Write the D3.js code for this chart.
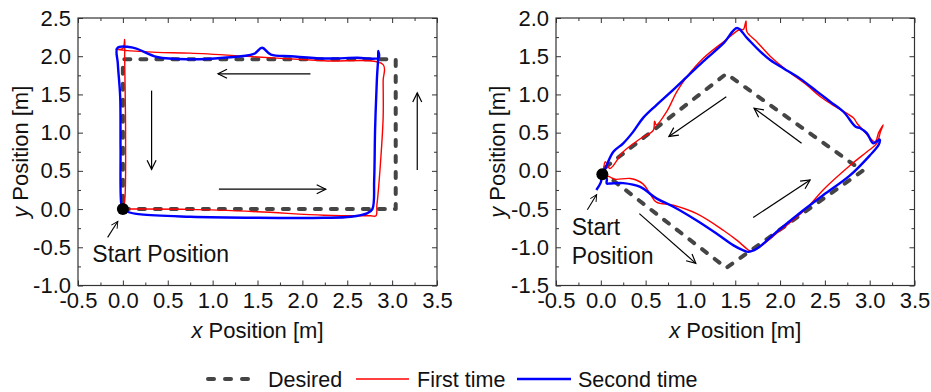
<!DOCTYPE html>
<html>
<head>
<meta charset="utf-8">
<script src="https://cdn.jsdelivr.net/npm/d3@7"></script>
<style>
  body { margin: 0; background: #fff; }
  svg text { font-family: "Liberation Sans", Arial, sans-serif; fill: #111; }
</style>
</head>
<body>
<div class="chart"></div>
<script>
// ---- datos ----
var xTicks = [-0.5, 0.0, 0.5, 1.0, 1.5, 2.0, 2.5, 3.0, 3.5];
var leftYTicks = [-1.0, -0.5, 0.0, 0.5, 1.0, 1.5, 2.0, 2.5];
var rightYTicks = [-1.5, -1.0, -0.5, 0.0, 0.5, 1.0, 1.5, 2.0];

// trayectoria deseada, rectángulo
var rectDesired = [[0, 0], [3.04, 0], [3.04, 1.96], [0, 1.96], [0, 0]];
// primera vez, rectángulo
var rectFirst = [[0, 0], [0.07, 0], [0.75, -0.004], [1.5, -0.035], [2.24, -0.08], [2.76, -0.088], [2.82, -0.088],
  [2.83, 0.05], [2.84, 0.16], [2.87, 0.6], [2.9, 1.2], [2.9, 1.68], [2.9, 1.89],
  [2.24, 1.94], [1.5, 1.99], [0.75, 2.04], [0.38, 2.05], [0.09, 2.07], [-0.08, 2.09],
  [0.0, 2.1], [0.02, 2.22], [0.02, 2.0], [0.03, 1.0], [0.02, 0.1], [0.0, 0.0]];
// segunda vez, rectángulo
var rectSecond = [[0, 0], [0.05, -0.035], [0.2, -0.07], [0.75, -0.1], [1.5, -0.114], [2.24, -0.114], [2.54, -0.1],
  [2.72, -0.056], [2.78, 0.0], [2.8, 0.38], [2.81, 1.03], [2.83, 1.69], [2.845, 1.99], [2.845, 2.07], [2.85, 1.98],
  [2.61, 1.98], [2.24, 1.97], [1.87, 2.0], [1.65, 2.02], [1.55, 2.11], [1.46, 2.03], [1.12, 1.98], [0.75, 1.96],
  [0.38, 1.99], [0.12, 2.11], [-0.06, 2.11], [-0.056, 1.9], [-0.03, 1.47], [-0.026, 0.81], [-0.018, 0.07], [0, 0]];

// trayectoria deseada, rombo
var diamondDesired = [[0, 0], [1.4, -1.27], [2.92, 0.0], [1.4, 1.27], [0, 0]];
var diamondFirst = [[0.02, -0.04], [0.1, -0.08], [0.16, -0.11], [0.33, -0.1], [0.47, -0.17], [0.55, -0.3], [0.62, -0.41],
  [0.81, -0.45], [1.07, -0.56], [1.37, -0.78], [1.52, -0.91], [1.63, -1.02], [1.67, -1.05], [1.74, -1.02],
  [1.96, -0.82], [2.19, -0.6], [2.33, -0.45], [2.48, -0.25], [2.78, 0.07], [2.97, 0.25], [3.08, 0.36], [3.12, 0.51],
  [3.15, 0.6], [3.1, 0.5], [3.06, 0.38], [2.93, 0.53], [2.86, 0.62], [2.82, 0.69], [2.59, 0.86], [2.45, 0.97],
  [2.3, 1.12], [2.07, 1.32], [1.89, 1.5], [1.74, 1.69], [1.63, 1.82], [1.62, 1.96], [1.59, 1.85], [1.55, 1.85],
  [1.37, 1.69], [1.14, 1.47], [0.96, 1.23], [0.85, 1.04], [0.735, 0.775], [0.62, 0.6], [0.6, 0.65], [0.585, 0.53],
  [0.44, 0.42], [0.25, 0.25], [0.1, 0.03], [0.05, 0.12], [0.03, 0.0]];
var diamondSecond = [[-0.05, -0.25], [0.0, -0.15], [0.02, -0.04], [0.066, -0.1], [0.066, -0.165], [0.1, -0.165], [0.25, -0.16],
  [0.44, -0.21], [0.62, -0.36], [0.81, -0.47], [1.07, -0.65], [1.29, -0.82], [1.48, -0.975], [1.59, -1.04],
  [1.645, -1.06], [1.74, -1.02], [1.96, -0.8], [2.19, -0.58], [2.48, -0.32], [2.78, -0.06], [3.0, 0.2],
  [3.1, 0.34], [3.11, 0.41], [3.04, 0.36], [2.97, 0.49], [2.89, 0.56], [2.84, 0.58], [2.71, 0.77], [2.56, 0.905],
  [2.41, 1.04], [2.22, 1.21], [2.04, 1.34], [1.89, 1.45], [1.78, 1.56], [1.63, 1.74], [1.52, 1.87], [1.37, 1.67],
  [1.14, 1.43], [0.96, 1.23], [0.77, 1.02], [0.62, 0.86], [0.47, 0.69], [0.36, 0.51], [0.25, 0.36], [0.14, 0.25],
  [0.066, 0.075], [0.01, -0.1]];

// flechas de dirección [x1, y1, x2, y2]
var rectArrows = [[2.09, 1.77, 1.06, 1.77], [0.32, 1.55, 0.32, 0.52], [1.07, 0.26, 2.26, 0.26], [3.28, 0.51, 3.28, 1.52]];
var diamondArrows = [[1.4, 0.97, 0.76, 0.45], [2.24, 0.36, 1.71, 0.82], [1.7, -0.61, 2.335, -0.12], [0.43, -0.56, 1.06, -1.21]];
var rectStartArrow = [-0.17, -0.37, -0.056, -0.16];
var diamondStartArrow = [-0.15, -0.51, -0.046, -0.31];
var rectStart = [0, 0];
var diamondStart = [0.017, -0.043];

var legendLabels = ["Desired", "First time", "Second time"];

// ---- dibujo ----
var W = 931, H = 392;
var svg = d3.select(".chart").append("svg")
    .attr("width", W).attr("height", H);

var defs = svg.append("defs");
function addMarker(id, size) {
  defs.append("marker")
    .attr("id", id)
    .attr("viewBox", "-10 -6 12 12")
    .attr("markerUnits", "userSpaceOnUse")
    .attr("markerWidth", size).attr("markerHeight", size)
    .attr("refX", 0).attr("refY", 0)
    .attr("orient", "auto")
    .append("path")
    .attr("d", "M-9,-4.5L0,0L-9,4.5")
    .attr("fill", "none").attr("stroke", "#000").attr("stroke-width", 1.2);
}
addMarker("arrowBig", 12);
addMarker("arrowSmall", 9);

var line = d3.line().curve(d3.curveCatmullRom.alpha(0.5));
var lineStraight = d3.line();

function panel(cfg) {
  var x = d3.scaleLinear().domain([-0.5, 3.5]).range([cfg.left, cfg.right]);
  var y = d3.scaleLinear().domain(cfg.yDomain).range([cfg.bottom, cfg.top]);
  var g = svg.append("g");

  var xMinor = d3.range(-0.25, 3.5, 0.5);
  var yMinor = d3.range(cfg.yDomain[0] + 0.25, cfg.yDomain[1], 0.5);
  var fmt = function(d) { return d.toFixed(1); };

  function axis(a, scale, vals, size, labels, transform) {
    var ax = g.append("g").attr("transform", transform)
      .call(a(scale).tickValues(vals).tickSizeInner(-size).tickSizeOuter(0)
        .tickPadding(labels ? 7 : 0).tickFormat(labels ? fmt : ""));
    ax.select(".domain").remove();
    ax.selectAll("line").attr("stroke", "#333");
    ax.selectAll("text").attr("font-size", 22).attr("fill", "#111")
      .style("font-family", '"Liberation Sans", Arial, sans-serif');
    return ax;
  }
  // ejes con marcas hacia dentro
  axis(d3.axisBottom, x, xTicks, 5, true, "translate(0," + cfg.bottom + ")");
  axis(d3.axisBottom, x, xMinor, 3, false, "translate(0," + cfg.bottom + ")");
  axis(d3.axisTop, x, xTicks, 5, false, "translate(0," + cfg.top + ")");
  axis(d3.axisTop, x, xMinor, 3, false, "translate(0," + cfg.top + ")");
  axis(d3.axisLeft, y, cfg.yTicks, 5, true, "translate(" + cfg.left + ",0)");
  axis(d3.axisLeft, y, yMinor, 3, false, "translate(" + cfg.left + ",0)");
  axis(d3.axisRight, y, cfg.yTicks, 5, false, "translate(" + cfg.right + ",0)");
  axis(d3.axisRight, y, yMinor, 3, false, "translate(" + cfg.right + ",0)");

  g.append("rect")
    .attr("x", cfg.left).attr("y", cfg.top)
    .attr("width", cfg.right - cfg.left).attr("height", cfg.bottom - cfg.top)
    .attr("fill", "none").attr("stroke", "#333").attr("stroke-width", 1.2);

  // etiquetas de ejes
  var xl = g.append("text")
    .attr("x", (cfg.left + cfg.right) / 2).attr("y", 338)
    .attr("text-anchor", "middle").attr("font-size", 22);
  xl.append("tspan").attr("font-style", "italic").text("x");
  xl.append("tspan").text(" Position [m]");

  var yl = g.append("text")
    .attr("transform", "translate(" + cfg.yLabelX + "," + ((cfg.top + cfg.bottom) / 2) + ") rotate(-90)")
    .attr("text-anchor", "middle").attr("dy", "0.35em").attr("font-size", 22);
  yl.append("tspan").attr("font-style", "italic").text("y");
  yl.append("tspan").text(" Position [m]");

  function pts(arr) { return arr.map(function(p) { return [x(p[0]), y(p[1])]; }); }

  g.append("path").attr("d", lineStraight(pts(cfg.desired)))
    .attr("fill", "none").attr("stroke", "#454545").attr("stroke-width", 4)
    .attr("stroke-dasharray", "6,10").attr("stroke-linecap", "round").attr("stroke-linejoin", "round");
  g.append("path").attr("d", line(pts(cfg.first)))
    .attr("fill", "none").attr("stroke", "#ff0000").attr("stroke-width", 1.4);
  g.append("path").attr("d", line(pts(cfg.second)))
    .attr("fill", "none").attr("stroke", "#0000ff").attr("stroke-width", 2.4);

  g.selectAll(".arrow").data(cfg.arrows).enter().append("line")
    .attr("class", "arrow")
    .attr("x1", function(d) { return x(d[0]); }).attr("y1", function(d) { return y(d[1]); })
    .attr("x2", function(d) { return x(d[2]); }).attr("y2", function(d) { return y(d[3]); })
    .attr("stroke", "#000").attr("stroke-width", 1.2)
    .attr("marker-end", "url(#arrowBig)");

  var sa = cfg.startArrow;
  g.append("line")
    .attr("x1", x(sa[0])).attr("y1", y(sa[1])).attr("x2", x(sa[2])).attr("y2", y(sa[3]))
    .attr("stroke", "#000").attr("stroke-width", 1.1)
    .attr("marker-end", "url(#arrowSmall)");

  var st = g.append("text").attr("font-size", 23);
  cfg.startText.forEach(function(t) {
    st.append("tspan").attr("x", x(t[1])).attr("y", y(t[2])).text(t[0]);
  });

  g.append("circle")
    .attr("cx", x(cfg.start[0])).attr("cy", y(cfg.start[1])).attr("r", 6)
    .attr("fill", "#000");
}

panel({
  left: 78, right: 437, top: 18, bottom: 285.5, yDomain: [-1.0, 2.5], yTicks: leftYTicks, yLabelX: 20,
  desired: rectDesired, first: rectFirst, second: rectSecond,
  arrows: rectArrows, startArrow: rectStartArrow, start: rectStart,
  startText: [["Start Position", -0.34, -0.69]]
});
panel({
  left: 556, right: 914.5, top: 18, bottom: 285.5, yDomain: [-1.5, 2.0], yTicks: rightYTicks, yLabelX: 497,
  desired: diamondDesired, first: diamondFirst, second: diamondSecond,
  arrows: diamondArrows, startArrow: diamondStartArrow, start: diamondStart,
  startText: [["Start", -0.325, -0.845], ["Position", -0.325, -1.215]]
});

// leyenda
var lg = svg.append("g");
var legendY = 379;
lg.append("line").attr("x1", 208).attr("x2", 256).attr("y1", legendY).attr("y2", legendY)
  .attr("stroke", "#454545").attr("stroke-width", 4)
  .attr("stroke-dasharray", "6,11").attr("stroke-linecap", "round");
lg.append("line").attr("x1", 356).attr("x2", 409).attr("y1", legendY).attr("y2", legendY)
  .attr("stroke", "#ff0000").attr("stroke-width", 1.4);
lg.append("line").attr("x1", 517).attr("x2", 571).attr("y1", legendY).attr("y2", legendY)
  .attr("stroke", "#0000ff").attr("stroke-width", 2.4);
[268, 417, 578].forEach(function(px, i) {
  lg.append("text").attr("x", px).attr("y", 386.5).attr("font-size", 21.5).text(legendLabels[i]);
});
</script>
</body>
</html>
